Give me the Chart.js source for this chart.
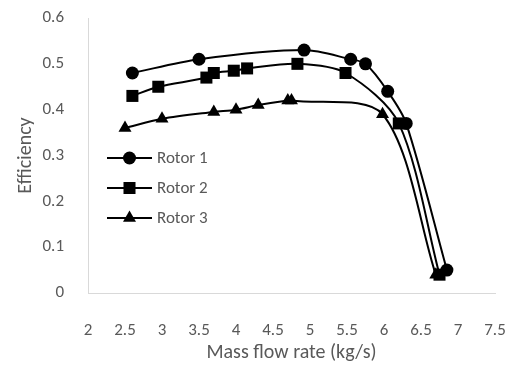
<!DOCTYPE html>
<html>
<head>
<meta charset="utf-8">
<script src="https://cdn.jsdelivr.net/npm/chart.js@4/dist/chart.umd.min.js"></script>
<style>
  html, body { margin: 0; padding: 0; background: #fff; }
  #wrap { width: 513px; height: 369px; }
</style>
</head>
<body>
<div id="wrap"><canvas id="myChart" width="513" height="369"></canvas></div>
<script>
// values
const rotor1X = [2.6, 3.5, 4.92, 5.55, 5.75, 6.05, 6.3, 6.85];
const rotor1Y = [0.48, 0.51, 0.53, 0.51, 0.50, 0.44, 0.37, 0.05];
const rotor2X = [2.6, 2.95, 3.6, 3.7, 3.97, 4.15, 4.83, 5.48, 6.2, 6.75];
const rotor2Y = [0.43, 0.45, 0.47, 0.48, 0.485, 0.49, 0.50, 0.48, 0.37, 0.04];
const rotor3X = [2.5, 3.0, 3.7, 4.0, 4.3, 4.7, 4.75, 5.98, 6.7];
const rotor3Y = [0.36, 0.38, 0.395, 0.40, 0.41, 0.42, 0.42, 0.39, 0.04];
const seriesNames = ['Rotor 1', 'Rotor 2', 'Rotor 3'];
const markers = ['circle', 'rect', 'triangle'];
const markerSizes = [6.5, 8.5, 7.5];

const textColor = '#595959';
const fontFamily = 'Carlito, Calibri, Lato, "Open Sans", sans-serif';

function toPoints(xs, ys) {
    return xs.map((x, i) => ({x: x, y: ys[i]}));
}

const allX = [rotor1X, rotor2X, rotor3X];
const allY = [rotor1Y, rotor2Y, rotor3Y];

const datasets = seriesNames.map((name, i) => ({
    label: name,
    data: toPoints(allX[i], allY[i]),
    borderColor: '#000',
    backgroundColor: '#000',
    borderWidth: 2,
    pointStyle: markers[i],
    pointRadius: markerSizes[i],
    pointHoverRadius: markerSizes[i],
    pointBackgroundColor: '#000',
    pointBorderColor: '#000',
    pointBorderWidth: 0,
    tension: 0.3,
    fill: false
}));

// legend sits inside the plot area, so draw it by hand
const insideLegend = {
    id: 'insideLegend',
    afterDraw(chart) {
        const ctx = chart.ctx;
        const x0 = 107, x1 = 152, tx = 157;
        const rows = [158, 188, 218];
        ctx.save();
        chart.data.datasets.forEach((ds, i) => {
            const y = rows[i];
            ctx.strokeStyle = '#000';
            ctx.lineWidth = 2;
            ctx.beginPath();
            ctx.moveTo(x0, y);
            ctx.lineTo(x1, y);
            ctx.stroke();
            ctx.fillStyle = '#000';
            Chart.helpers.drawPoint(ctx, {
                pointStyle: ds.pointStyle,
                radius: ds.pointRadius,
                borderWidth: 0
            }, (x0 + x1) / 2, y);
            ctx.fillStyle = textColor;
            ctx.font = '17px ' + fontFamily;
            ctx.textBaseline = 'middle';
            ctx.textAlign = 'left';
            ctx.fillText(ds.label, tx, y + 1);
        });
        ctx.restore();
    }
};

const fmt = (v) => String(parseFloat(v.toFixed(2)));

const myChart = new Chart(document.getElementById('myChart'), {
    type: 'line',
    data: { datasets: datasets },
    plugins: [insideLegend],
    options: {
        responsive: false,
        animation: false,
        events: [],
        layout: { padding: { top: 18, right: 18, left: 0, bottom: 0 } },
        plugins: {
            legend: { display: false },
            tooltip: { enabled: false }
        },
        scales: {
            x: {
                type: 'linear',
                min: 2,
                max: 7.5,
                ticks: {
                    stepSize: 0.5,
                    color: textColor,
                    padding: 20,
                    maxRotation: 0,
                    font: { size: 17, family: fontFamily },
                    callback: fmt
                },
                grid: { display: false },
                border: { display: true, color: '#d9d9d9', width: 1 },
                title: {
                    display: true,
                    text: 'Mass flow rate (kg/s)',
                    color: textColor,
                    font: { size: 20, family: fontFamily },
                    padding: { top: 2 }
                },
                afterFit(scale) {
                    scale.height = 76;
                    scale.paddingLeft = 0;
                    scale.paddingRight = 0;
                }
            },
            y: {
                min: 0,
                max: 0.6,
                ticks: {
                    stepSize: 0.1,
                    color: textColor,
                    padding: 16,
                    font: { size: 17, family: fontFamily },
                    callback: fmt
                },
                grid: { display: false },
                border: { display: true, color: '#d9d9d9', width: 1 },
                title: {
                    display: true,
                    text: 'Efficiency',
                    color: textColor,
                    font: { size: 20, family: fontFamily },
                    padding: { top: 14, bottom: 0 }
                },
                afterFit(scale) {
                    scale.width = 88;
                    scale.paddingTop = 0;
                    scale.paddingBottom = 0;
                }
            }
        }
    }
});
</script>
</body>
</html>
